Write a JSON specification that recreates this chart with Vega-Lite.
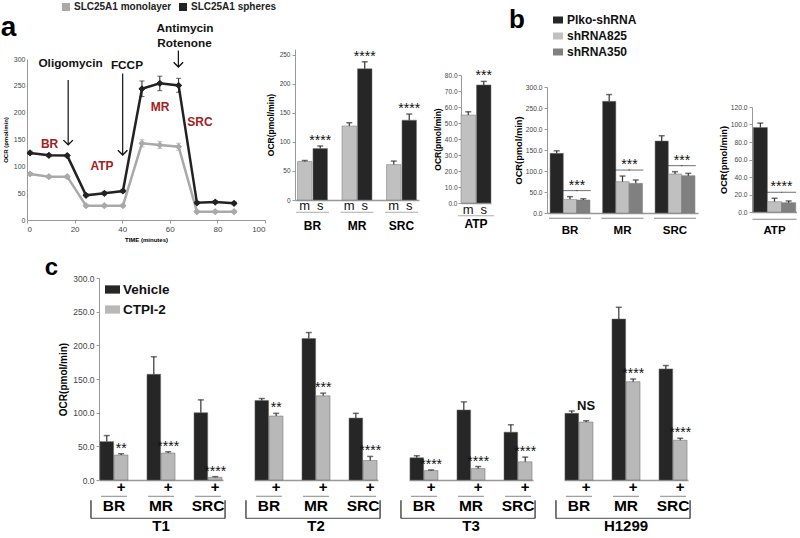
{
"$schema":"https://vega.github.io/schema/vega-lite/v6.json",
"padding":{"left":0,"top":0,"right":0,"bottom":0},
"config":{
 "font":"Liberation Sans",
 "view":{"stroke":null},
 "axis":{"grid":false,"labelOverlap":false,"labelColor":"#444","domainColor":"#999","tickColor":"#999","titleColor":"#000","labelFont":"Liberation Sans","titleFont":"Liberation Sans"},
 "legend":{"labelFont":"Liberation Sans","padding":0},
 "title":{"font":"Liberation Sans","color":"#000"},
 "text":{"font":"Liberation Sans"}
},
"datasets":{
 "aline":[
  {"series":"SLC25A1 monolayer","time":1.3,"value":85.7,"lo":83,"hi":88.5},
  {"series":"SLC25A1 monolayer","time":9.2,"value":80.7,"lo":78,"hi":83.5},
  {"series":"SLC25A1 monolayer","time":16.9,"value":80.7,"lo":78,"hi":83.5},
  {"series":"SLC25A1 monolayer","time":24.8,"value":26.7,"lo":24.5,"hi":29},
  {"series":"SLC25A1 monolayer","time":32.5,"value":26.7,"lo":24.5,"hi":29},
  {"series":"SLC25A1 monolayer","time":40.3,"value":26.7,"lo":24.5,"hi":29},
  {"series":"SLC25A1 monolayer","time":48.3,"value":142.8,"lo":136,"hi":149.5},
  {"series":"SLC25A1 monolayer","time":55.8,"value":139.7,"lo":133,"hi":146.5},
  {"series":"SLC25A1 monolayer","time":63.7,"value":136.5,"lo":130,"hi":143},
  {"series":"SLC25A1 monolayer","time":71.4,"value":15.5,"lo":13.5,"hi":17.5},
  {"series":"SLC25A1 monolayer","time":79.1,"value":15.5,"lo":13.5,"hi":17.5},
  {"series":"SLC25A1 monolayer","time":87,"value":15.5,"lo":13.5,"hi":17.5},
  {"series":"SLC25A1 spheres","time":1.3,"value":125,"lo":122,"hi":128},
  {"series":"SLC25A1 spheres","time":9.2,"value":120.5,"lo":118,"hi":123},
  {"series":"SLC25A1 spheres","time":16.9,"value":120,"lo":117.5,"hi":122.5},
  {"series":"SLC25A1 spheres","time":24.8,"value":46,"lo":43.5,"hi":48.5},
  {"series":"SLC25A1 spheres","time":32.5,"value":49.7,"lo":47,"hi":52.5},
  {"series":"SLC25A1 spheres","time":40.3,"value":54,"lo":51,"hi":57},
  {"series":"SLC25A1 spheres","time":48.3,"value":244.5,"lo":230,"hi":259},
  {"series":"SLC25A1 spheres","time":55.8,"value":254.6,"lo":241,"hi":268},
  {"series":"SLC25A1 spheres","time":63.7,"value":250.8,"lo":238,"hi":264},
  {"series":"SLC25A1 spheres","time":71.4,"value":32,"lo":29.5,"hi":34.5},
  {"series":"SLC25A1 spheres","time":79.1,"value":33.5,"lo":31,"hi":36},
  {"series":"SLC25A1 spheres","time":87,"value":31,"lo":28.5,"hi":33.5}
 ],
 "anno":[
  {"label":"Oligomycin","time":18.3,"value":293,"kind":"drug"},
  {"label":"FCCP","time":42,"value":288,"kind":"drug"},
  {"label":"Antimycin","time":66.4,"value":357,"kind":"drug"},
  {"label":"Rotenone","time":66.2,"value":330,"kind":"drug"},
  {"label":"BR","time":9.5,"value":141,"kind":"phase"},
  {"label":"ATP","time":31.5,"value":101,"kind":"phase"},
  {"label":"MR","time":55.9,"value":211,"kind":"phase"},
  {"label":"SRC","time":72.7,"value":183,"kind":"phase"}
 ],
 "arrows":[
  {"time":17.3,"top":261,"tip":140},
  {"time":40.2,"top":273,"tip":121},
  {"time":63.6,"top":316,"tip":285}
 ],
 "abar":[
  {"group":"BR","t":"m","value":66.5,"upper":68,"sig":""},
  {"group":"BR","t":"s","value":88.5,"upper":93,"sig":"****"},
  {"group":"MR","t":"m","value":127.5,"upper":133,"sig":""},
  {"group":"MR","t":"s","value":226,"upper":238,"sig":"****"},
  {"group":"SRC","t":"m","value":61,"upper":67,"sig":""},
  {"group":"SRC","t":"s","value":137.5,"upper":148,"sig":"****"}
 ],
 "aatp":[
  {"group":"ATP","t":"m","value":55,"upper":57,"sig":""},
  {"group":"ATP","t":"s","value":73.8,"upper":76,"sig":"***"}
 ],
 "bbar":[
  {"group":"BR","tr":"Plko-shRNA","value":142,"upper":148,"sig":""},
  {"group":"BR","tr":"shRNA825","value":32.5,"upper":39,"sig":"***"},
  {"group":"BR","tr":"shRNA350","value":31,"upper":34,"sig":""},
  {"group":"MR","tr":"Plko-shRNA","value":266,"upper":282,"sig":""},
  {"group":"MR","tr":"shRNA825","value":74.6,"upper":88,"sig":"***"},
  {"group":"MR","tr":"shRNA350","value":70.6,"upper":78.6,"sig":""},
  {"group":"SRC","tr":"Plko-shRNA","value":171.4,"upper":184,"sig":""},
  {"group":"SRC","tr":"shRNA825","value":92.9,"upper":98.4,"sig":"***"},
  {"group":"SRC","tr":"shRNA350","value":88.9,"upper":94.4,"sig":""}
 ],
 "batp":[
  {"group":"ATP","tr":"Plko-shRNA","value":96.6,"upper":101.6,"sig":""},
  {"group":"ATP","tr":"shRNA825","value":11.8,"upper":15.7,"sig":"****"},
  {"group":"ATP","tr":"shRNA350","value":10.7,"upper":12.6,"sig":""}
 ],
 "cdata":[
  {"cell":"T1","metric":"BR","treatment":"Vehicle","value":57,"upper":66,"sig":""},
  {"cell":"T1","metric":"BR","treatment":"CTPI-2","value":37,"upper":39,"sig":"**"},
  {"cell":"T1","metric":"MR","treatment":"Vehicle","value":157,"upper":183,"sig":""},
  {"cell":"T1","metric":"MR","treatment":"CTPI-2","value":40,"upper":42,"sig":"****"},
  {"cell":"T1","metric":"SRC","treatment":"Vehicle","value":100,"upper":119,"sig":""},
  {"cell":"T1","metric":"SRC","treatment":"CTPI-2","value":4,"upper":5,"sig":"****"},
  {"cell":"T2","metric":"BR","treatment":"Vehicle","value":118,"upper":121,"sig":""},
  {"cell":"T2","metric":"BR","treatment":"CTPI-2","value":95,"upper":99,"sig":"**"},
  {"cell":"T2","metric":"MR","treatment":"Vehicle","value":210,"upper":219,"sig":""},
  {"cell":"T2","metric":"MR","treatment":"CTPI-2","value":125,"upper":129,"sig":"***"},
  {"cell":"T2","metric":"SRC","treatment":"Vehicle","value":92,"upper":99,"sig":""},
  {"cell":"T2","metric":"SRC","treatment":"CTPI-2","value":29,"upper":35,"sig":"****"},
  {"cell":"T3","metric":"BR","treatment":"Vehicle","value":33,"upper":36,"sig":""},
  {"cell":"T3","metric":"BR","treatment":"CTPI-2","value":14,"upper":15,"sig":"****"},
  {"cell":"T3","metric":"MR","treatment":"Vehicle","value":104,"upper":116,"sig":""},
  {"cell":"T3","metric":"MR","treatment":"CTPI-2","value":17,"upper":20,"sig":"****"},
  {"cell":"T3","metric":"SRC","treatment":"Vehicle","value":71,"upper":82,"sig":""},
  {"cell":"T3","metric":"SRC","treatment":"CTPI-2","value":27,"upper":34,"sig":"****"},
  {"cell":"H1299","metric":"BR","treatment":"Vehicle","value":99,"upper":102.5,"sig":""},
  {"cell":"H1299","metric":"BR","treatment":"CTPI-2","value":86,"upper":88,"sig":"NS"},
  {"cell":"H1299","metric":"MR","treatment":"Vehicle","value":239,"upper":256.5,"sig":""},
  {"cell":"H1299","metric":"MR","treatment":"CTPI-2","value":146,"upper":150,"sig":"****"},
  {"cell":"H1299","metric":"SRC","treatment":"Vehicle","value":165,"upper":170,"sig":""},
  {"cell":"H1299","metric":"SRC","treatment":"CTPI-2","value":59,"upper":62,"sig":"****"}
 ]
},
"resolve":{"scale":{"color":"independent","x":"independent","y":"independent","xOffset":"independent"},"legend":{"color":"independent"}},
"spacing":14,
"vconcat":[
 {"resolve":{"scale":{"color":"independent","x":"independent","y":"independent","xOffset":"independent"},"legend":{"color":"independent"}},
  "spacing":14,
  "hconcat":[
   {"resolve":{"scale":{"color":"independent","x":"independent","y":"independent","xOffset":"independent"},"legend":{"color":"independent"}},
    "spacing":-11,
    "hconcat":[
     {"vconcat":[
       {"width":1,"height":59,"data":{"values":[{}]},"mark":{"type":"text","text":" "},"encoding":{}},
       {"width":238,"height":161,
        "layer":[
         {"data":{"name":"aline"},"mark":{"type":"point","shape":"diamond","filled":true,"size":45,"opacity":1},
          "encoding":{
           "x":{"field":"time","type":"quantitative","scale":{"domain":[0,100]},"axis":{"values":[0,20,40,60,80,100],"tickCount":20,"title":"TIME (minutes)","titleFontSize":6,"titleFontWeight":"bold","labelFontSize":8,"tickSize":3,"labelPadding":2,"titlePadding":3,"labelOverlap":false}},
           "y":{"field":"value","type":"quantitative","scale":{"domain":[0,300]},"axis":{"values":[0,50,100,150,200,250,300],"tickCount":20,"title":"OCR (pmol/min)","titleFontSize":6,"titleFontWeight":"bold","labelFontSize":7,"tickSize":0,"labelPadding":2,"titlePadding":5,"labelOverlap":false}},
           "color":{"field":"series","type":"nominal","scale":{"domain":["SLC25A1 monolayer","SLC25A1 spheres"],"range":["#a9a9a9","#222222"]},
            "legend":{"orient":"none","legendX":34,"legendY":2,"direction":"horizontal","title":null,"symbolType":"square","symbolSize":64,"symbolStrokeWidth":0,"labelFontSize":10,"labelFontWeight":"bold","labelColor":"#222","columnPadding":6,"labelOffset":3}}
          }},
         {"data":{"name":"aline"},"mark":{"type":"line","strokeWidth":2.5},
          "encoding":{"x":{"field":"time","type":"quantitative"},"y":{"field":"value","type":"quantitative"},"color":{"field":"series","type":"nominal"}}},
         {"data":{"name":"aline"},"mark":{"type":"rule","strokeWidth":1},
          "encoding":{"x":{"field":"time","type":"quantitative"},"y":{"field":"lo","type":"quantitative"},"y2":{"field":"hi"},"color":{"field":"series","type":"nominal"}}},
         {"data":{"name":"aline"},"transform":[{"fold":["lo","hi"],"as":["k","cap"]}],"mark":{"type":"tick","orient":"horizontal","size":5,"thickness":1},
          "encoding":{"x":{"field":"time","type":"quantitative"},"y":{"field":"cap","type":"quantitative"},"color":{"field":"series","type":"nominal"}}},
         {"data":{"name":"aline"},"mark":{"type":"point","shape":"diamond","filled":true,"size":45,"opacity":1},
          "encoding":{"x":{"field":"time","type":"quantitative"},"y":{"field":"value","type":"quantitative"},"color":{"field":"series","type":"nominal"}}},
         {"data":{"values":[{}]},"mark":{"type":"text","text":"a","fontSize":28,"fontWeight":"bold","align":"left","baseline":"alphabetic","color":"#000"},
          "encoding":{"x":{"datum":-11,"type":"quantitative"},"y":{"datum":343,"type":"quantitative"}}},
         {"data":{"name":"anno"},"transform":[{"filter":"datum.kind == 'drug'"}],"mark":{"type":"text","fontSize":11.8,"fontWeight":"bold","color":"#111","baseline":"middle"},
          "encoding":{"x":{"field":"time","type":"quantitative"},"y":{"field":"value","type":"quantitative"},"text":{"field":"label"}}},
         {"data":{"name":"anno"},"transform":[{"filter":"datum.kind == 'phase'"}],"mark":{"type":"text","fontSize":12,"fontWeight":"bold","color":"#a3201e","baseline":"middle"},
          "encoding":{"x":{"field":"time","type":"quantitative"},"y":{"field":"value","type":"quantitative"},"text":{"field":"label"}}},
         {"data":{"name":"arrows"},"mark":{"type":"rule","strokeWidth":1.2,"color":"#111"},
          "encoding":{"x":{"field":"time","type":"quantitative"},"y":{"field":"top","type":"quantitative"},"y2":{"field":"tip"}}},
         {"data":{"name":"arrows"},"mark":{"type":"point","shape":"M-1,-1L0,0L1,-1","filled":false,"size":90,"strokeWidth":1.4,"color":"#111","opacity":1},
          "encoding":{"x":{"field":"time","type":"quantitative"},"y":{"field":"tip","type":"quantitative"}}}
        ]}
      ],"spacing":0,"bounds":"flush"},
     {"resolve":{"scale":{"color":"independent","x":"independent","y":"independent","xOffset":"independent"},"legend":{"color":"independent"}},
      "spacing":12,
      "hconcat":[
       {"vconcat":[
         {"width":1,"height":49,"data":{"values":[{}]},"mark":{"type":"text","text":" "},"encoding":{}},
         {"width":124,"height":151,
          "data":{"name":"abar"},
          "layer":[
           {"mark":{"type":"bar","stroke":"#777","strokeWidth":0.5},
            "encoding":{
             "x":{"field":"group","type":"nominal","sort":["BR","MR","SRC"],"scale":{"paddingInner":0.326,"paddingOuter":0.056},"axis":{"title":null,"labelAngle":0,"labelFontSize":12,"labelFontWeight":"bold","labelColor":"#000","ticks":false,"labelPadding":20,"domainColor":"#999","domainWidth":1.5}},
             "xOffset":{"field":"t","type":"nominal","sort":["m","s"],"scale":{"paddingInner":0.06}},
             "y":{"field":"value","type":"quantitative","scale":{"domain":[0,250]},"axis":{"values":[0,50,100,150,200,250],"tickCount":20,"title":"OCR(pmol/min)","titleFontSize":8.5,"titleFontWeight":"bold","labelFontSize":6.5,"tickSize":3,"labelPadding":2,"titlePadding":4,"labelOverlap":false}},
             "color":{"field":"t","type":"nominal","scale":{"domain":["m","s"],"range":["#c0c0c0","#262626"]},"legend":null}
            }},
           {"mark":{"type":"rule","color":"#333","strokeWidth":1.2},
            "encoding":{"x":{"field":"group","type":"nominal","sort":["BR","MR","SRC"]},"xOffset":{"field":"t","type":"nominal","sort":["m","s"]},"y":{"field":"value","type":"quantitative"},"y2":{"field":"upper"}}},
           {"mark":{"type":"tick","orient":"horizontal","size":6,"thickness":1.5,"color":"#333"},
            "encoding":{"x":{"field":"group","type":"nominal","sort":["BR","MR","SRC"]},"xOffset":{"field":"t","type":"nominal","sort":["m","s"]},"y":{"field":"upper","type":"quantitative"}}},
           {"mark":{"type":"text","fontSize":13,"baseline":"top","color":"#111","fill":"#111"},
            "encoding":{"x":{"field":"group","type":"nominal","sort":["BR","MR","SRC"]},"xOffset":{"field":"t","type":"nominal","sort":["m","s"]},"y":{"datum":0,"type":"quantitative"},"text":{"field":"t"}}},
           {"transform":[{"filter":"datum.t == 's'"}],"mark":{"type":"tick","orient":"horizontal","size":33,"thickness":1,"color":"#888"},
            "encoding":{"x":{"field":"group","type":"nominal","sort":["BR","MR","SRC"]},"y":{"datum":-21,"type":"quantitative"}}},
           {"transform":[{"filter":"datum.sig != ''"}],"mark":{"type":"text","fontSize":14,"baseline":"alphabetic","dy":-1,"color":"#111"},
            "encoding":{"x":{"field":"group","type":"nominal","sort":["BR","MR","SRC"]},"xOffset":{"field":"t","type":"nominal","sort":["m","s"]},"y":{"field":"upper","type":"quantitative"},"text":{"field":"sig"}}}
          ]}
        ],"spacing":0,"bounds":"flush"},
       {"vconcat":[
         {"width":1,"height":75,"data":{"values":[{}]},"mark":{"type":"text","text":" "},"encoding":{}},
         {"width":30,"height":128,
          "data":{"name":"aatp"},
          "layer":[
           {"mark":{"type":"bar","stroke":"#777","strokeWidth":0.5},
            "encoding":{
             "x":{"field":"group","type":"nominal","scale":{"paddingInner":0,"paddingOuter":0},"axis":{"title":null,"labelAngle":0,"labelFontSize":12,"labelFontWeight":"bold","labelColor":"#000","ticks":false,"labelPadding":15,"domainColor":"#999","domainWidth":1.5}},
             "xOffset":{"field":"t","type":"nominal","sort":["m","s"],"scale":{"paddingInner":0.06}},
             "y":{"field":"value","type":"quantitative","scale":{"domain":[0,80]},"axis":{"values":[0,10,20,30,40,50,60,70,80],"tickCount":20,"format":".1f","title":"OCR(pmol/min)","titleFontSize":8.5,"titleFontWeight":"bold","labelFontSize":6.5,"tickSize":3,"labelPadding":1,"titlePadding":2,"labelOverlap":false}},
             "color":{"field":"t","type":"nominal","scale":{"domain":["m","s"],"range":["#c0c0c0","#262626"]},"legend":null}
            }},
           {"mark":{"type":"rule","color":"#333","strokeWidth":1.2},
            "encoding":{"x":{"field":"group","type":"nominal"},"xOffset":{"field":"t","type":"nominal","sort":["m","s"]},"y":{"field":"value","type":"quantitative"},"y2":{"field":"upper"}}},
           {"mark":{"type":"tick","orient":"horizontal","size":6,"thickness":1.5,"color":"#333"},
            "encoding":{"x":{"field":"group","type":"nominal"},"xOffset":{"field":"t","type":"nominal","sort":["m","s"]},"y":{"field":"upper","type":"quantitative"}}},
           {"mark":{"type":"text","fontSize":13,"baseline":"top","dy":1,"color":"#111","fill":"#111"},
            "encoding":{"x":{"field":"group","type":"nominal"},"xOffset":{"field":"t","type":"nominal","sort":["m","s"]},"y":{"datum":0,"type":"quantitative"},"text":{"field":"t"}}},
           {"transform":[{"filter":"datum.t == 's'"}],"mark":{"type":"tick","orient":"horizontal","size":36,"thickness":1,"color":"#888"},
            "encoding":{"x":{"field":"group","type":"nominal"},"y":{"datum":-8,"type":"quantitative"}}},
           {"transform":[{"filter":"datum.sig != ''"}],"mark":{"type":"text","fontSize":14,"baseline":"alphabetic","dy":-1,"color":"#111"},
            "encoding":{"x":{"field":"group","type":"nominal"},"xOffset":{"field":"t","type":"nominal","sort":["m","s"]},"y":{"field":"upper","type":"quantitative"},"text":{"field":"sig"}}}
          ]}
        ],"spacing":0,"bounds":"flush"}
      ]}
    ]},
   {"resolve":{"scale":{"color":"independent","x":"independent","y":"independent","xOffset":"independent"},"legend":{"color":"independent"}},
    "spacing":21,
    "hconcat":[
     {"vconcat":[
       {"width":1,"height":87,"data":{"values":[{}]},"mark":{"type":"text","text":" "},"encoding":{}},
       {"width":151,"height":126,
        "data":{"name":"bbar"},
        "layer":[
         {"mark":{"type":"bar","stroke":"#777","strokeWidth":0.5},
          "encoding":{
           "x":{"field":"group","type":"nominal","sort":["BR","MR","SRC"],"scale":{"paddingInner":0.24,"paddingOuter":0.058},"axis":{"title":null,"labelAngle":0,"labelFontSize":11.5,"labelFontWeight":"bold","labelColor":"#000","ticks":false,"labelPadding":11,"domainColor":"#999","domainWidth":1.5}},
           "xOffset":{"field":"tr","type":"nominal","sort":["Plko-shRNA","shRNA825","shRNA350"],"scale":{"paddingInner":0}},
           "y":{"field":"value","type":"quantitative","scale":{"domain":[0,300]},"axis":{"values":[0,50,100,150,200,250,300],"tickCount":20,"format":".1f","title":"OCR(pmol/min)","titleFontSize":9.3,"titleFontWeight":"bold","labelFontSize":6.7,"tickSize":3,"labelPadding":2,"titlePadding":2,"labelOverlap":false}},
           "color":{"field":"tr","type":"nominal","scale":{"domain":["Plko-shRNA","shRNA825","shRNA350"],"range":["#262626","#c0c0c0","#808080"]},
            "legend":{"orient":"none","legendX":5,"legendY":14,"title":null,"symbolType":"M-1,-0.7H1V0.7H-1Z","symbolSize":100,"symbolStrokeWidth":0,"labelFontSize":12,"labelFontWeight":"bold","labelColor":"#111","rowPadding":4,"labelOffset":3}}
          }},
         {"mark":{"type":"rule","color":"#333","strokeWidth":1.2},
          "encoding":{"x":{"field":"group","type":"nominal","sort":["BR","MR","SRC"]},"xOffset":{"field":"tr","type":"nominal","sort":["Plko-shRNA","shRNA825","shRNA350"]},"y":{"field":"value","type":"quantitative"},"y2":{"field":"upper"}}},
         {"mark":{"type":"tick","orient":"horizontal","size":6,"thickness":1.5,"color":"#333"},
          "encoding":{"x":{"field":"group","type":"nominal","sort":["BR","MR","SRC"]},"xOffset":{"field":"tr","type":"nominal","sort":["Plko-shRNA","shRNA825","shRNA350"]},"y":{"field":"upper","type":"quantitative"}}},
         {"transform":[{"filter":"datum.tr == 'Plko-shRNA'"}],"mark":{"type":"tick","orient":"horizontal","size":42,"thickness":1,"color":"#555"},
          "encoding":{"x":{"field":"group","type":"nominal","sort":["BR","MR","SRC"]},"y":{"datum":-12.6,"type":"quantitative"}}},
         {"transform":[{"filter":"datum.tr != 'Plko-shRNA'"},{"joinaggregate":[{"op":"max","field":"upper","as":"top"}],"groupby":["group"]}],
          "mark":{"type":"tick","orient":"horizontal","size":15,"thickness":1,"color":"#333","yOffset":-6},
          "encoding":{"x":{"field":"group","type":"nominal","sort":["BR","MR","SRC"]},"xOffset":{"field":"tr","type":"nominal","sort":["Plko-shRNA","shRNA825","shRNA350"]},"y":{"field":"top","type":"quantitative"}}},
         {"transform":[{"filter":"datum.tr != 'Plko-shRNA'"},{"joinaggregate":[{"op":"max","field":"upper","as":"top"}],"groupby":["group"]},{"filter":"datum.sig != ''"}],
          "mark":{"type":"text","fontSize":14,"baseline":"alphabetic","dx":7,"dy":-7,"color":"#111"},
          "encoding":{"x":{"field":"group","type":"nominal","sort":["BR","MR","SRC"]},"xOffset":{"field":"tr","type":"nominal","sort":["Plko-shRNA","shRNA825","shRNA350"]},"y":{"field":"top","type":"quantitative"},"text":{"field":"sig"}}},
         {"data":{"values":[{}]},"mark":{"type":"text","text":"b","fontSize":26,"fontWeight":"bold","align":"left","baseline":"alphabetic","dx":-61,"color":"#000"},
          "encoding":{"x":{"datum":"BR","type":"nominal"},"y":{"datum":440,"type":"quantitative"}}}
        ]}
      ],"spacing":0,"bounds":"flush"},
     {"vconcat":[
       {"width":1,"height":107,"data":{"values":[{}]},"mark":{"type":"text","text":" "},"encoding":{}},
       {"width":45,"height":105,
        "data":{"name":"batp"},
        "layer":[
         {"mark":{"type":"bar","stroke":"#777","strokeWidth":0.5},
          "encoding":{
           "x":{"field":"group","type":"nominal","scale":{"paddingInner":0,"paddingOuter":0.03},"axis":{"title":null,"labelAngle":0,"labelFontSize":11.5,"labelFontWeight":"bold","labelColor":"#000","ticks":false,"labelPadding":12,"domainColor":"#999","domainWidth":1.5}},
           "xOffset":{"field":"tr","type":"nominal","sort":["Plko-shRNA","shRNA825","shRNA350"],"scale":{"paddingInner":0}},
           "y":{"field":"value","type":"quantitative","scale":{"domain":[0,120]},"axis":{"values":[0,20,40,60,80,100,120],"tickCount":20,"format":".1f","title":"OCR(pmol/min)","titleFontSize":9.3,"titleFontWeight":"bold","labelFontSize":6.7,"tickSize":3,"labelPadding":2,"titlePadding":2,"labelOverlap":false}},
           "color":{"field":"tr","type":"nominal","scale":{"domain":["Plko-shRNA","shRNA825","shRNA350"],"range":["#262626","#c0c0c0","#808080"]},"legend":null}
          }},
         {"mark":{"type":"rule","color":"#333","strokeWidth":1.2},
          "encoding":{"x":{"field":"group","type":"nominal"},"xOffset":{"field":"tr","type":"nominal","sort":["Plko-shRNA","shRNA825","shRNA350"]},"y":{"field":"value","type":"quantitative"},"y2":{"field":"upper"}}},
         {"mark":{"type":"tick","orient":"horizontal","size":6,"thickness":1.5,"color":"#333"},
          "encoding":{"x":{"field":"group","type":"nominal"},"xOffset":{"field":"tr","type":"nominal","sort":["Plko-shRNA","shRNA825","shRNA350"]},"y":{"field":"upper","type":"quantitative"}}},
         {"transform":[{"filter":"datum.tr == 'Plko-shRNA'"}],"mark":{"type":"tick","orient":"horizontal","size":44,"thickness":1,"color":"#555"},
          "encoding":{"x":{"field":"group","type":"nominal"},"y":{"datum":-8.4,"type":"quantitative"}}},
         {"transform":[{"filter":"datum.tr != 'Plko-shRNA'"},{"joinaggregate":[{"op":"max","field":"upper","as":"top"}],"groupby":["group"]}],
          "mark":{"type":"tick","orient":"horizontal","size":15,"thickness":1,"color":"#333","yOffset":-6},
          "encoding":{"x":{"field":"group","type":"nominal"},"xOffset":{"field":"tr","type":"nominal","sort":["Plko-shRNA","shRNA825","shRNA350"]},"y":{"field":"top","type":"quantitative"}}},
         {"transform":[{"filter":"datum.tr != 'Plko-shRNA'"},{"joinaggregate":[{"op":"max","field":"upper","as":"top"}],"groupby":["group"]},{"filter":"datum.sig != ''"}],
          "mark":{"type":"text","fontSize":14,"baseline":"alphabetic","dx":7,"dy":-7,"color":"#111"},
          "encoding":{"x":{"field":"group","type":"nominal"},"xOffset":{"field":"tr","type":"nominal","sort":["Plko-shRNA","shRNA825","shRNA350"]},"y":{"field":"top","type":"quantitative"},"text":{"field":"sig"}}}
        ]}
      ],"spacing":0,"bounds":"flush"}
    ]}
  ]},
 {"resolve":{"scale":{"color":"independent","x":"independent","y":"independent","xOffset":"independent"},"legend":{"color":"independent"}},
  "spacing":0,
  "hconcat":[
   {"width":17,"height":1,"data":{"values":[{}]},"mark":{"type":"text","text":" "},"encoding":{}},
   {"data":{"name":"cdata"},
    "title":{"text":"c","fontSize":24,"fontWeight":"bold","anchor":"start","frame":"bounds","dx":-14,"offset":-6},
    "facet":{"column":{"field":"cell","type":"nominal","sort":["T1","T2","T3","H1299"],"header":{"title":null,"labelOrient":"bottom","titleOrient":"bottom","labelFontSize":15,"labelFontWeight":"bold","labelColor":"#000","labelPadding":5}}},
    "spacing":31,
    "bounds":"flush",
    "spec":{"width":124,"height":202,
     "layer":[
      {"mark":{"type":"bar","stroke":"#666","strokeWidth":0.5},
       "encoding":{
        "x":{"field":"metric","type":"nominal","sort":["BR","MR","SRC"],"scale":{"paddingInner":0.404,"paddingOuter":0.02},"axis":{"title":null,"labelAngle":0,"labelFontSize":15.5,"labelFontWeight":"bold","labelColor":"#000","ticks":false,"labelPadding":18,"domainColor":"#999","domainWidth":1.5}},
        "xOffset":{"field":"treatment","type":"nominal","sort":["Vehicle","CTPI-2"],"scale":{"paddingInner":0.05}},
        "y":{"field":"value","type":"quantitative","scale":{"domain":[0,300]},"axis":{"values":[0,50,100,150,200,250,300],"tickCount":20,"format":".1f","title":"OCR(pmol/min)","titleFontSize":10,"titleFontWeight":"bold","labelFontSize":8.5,"tickSize":3,"labelPadding":2,"titlePadding":4,"labelOverlap":false}},
        "color":{"field":"treatment","type":"nominal","sort":["Vehicle","CTPI-2"],"scale":{"domain":["Vehicle","CTPI-2"],"range":["#262626","#b8b8b8"]},
         "legend":{"orient":"none","legendX":6,"legendY":4,"title":null,"symbolType":"M-1,-0.55H1V0.55H-1Z","symbolSize":225,"symbolStrokeWidth":0,"labelFontSize":13.5,"labelFontWeight":"bold","labelColor":"#111","rowPadding":6,"labelOffset":3}}
       }},
      {"mark":{"type":"rule","color":"#333","strokeWidth":1.2},
       "encoding":{"x":{"field":"metric","type":"nominal","sort":["BR","MR","SRC"]},"xOffset":{"field":"treatment","type":"nominal","sort":["Vehicle","CTPI-2"]},"y":{"field":"value","type":"quantitative"},"y2":{"field":"upper"}}},
      {"mark":{"type":"tick","orient":"horizontal","size":6,"thickness":1.5,"color":"#333"},
       "encoding":{"x":{"field":"metric","type":"nominal","sort":["BR","MR","SRC"]},"xOffset":{"field":"treatment","type":"nominal","sort":["Vehicle","CTPI-2"]},"y":{"field":"upper","type":"quantitative"}}},
      {"transform":[{"filter":"datum.treatment == 'CTPI-2'"}],"mark":{"type":"text","text":"+","fontSize":15,"fontWeight":"bold","baseline":"middle","dy":6.5,"color":"#000"},
       "encoding":{"x":{"field":"metric","type":"nominal","sort":["BR","MR","SRC"]},"xOffset":{"field":"treatment","type":"nominal","sort":["Vehicle","CTPI-2"]},"y":{"datum":0,"type":"quantitative"}}},
      {"transform":[{"filter":"datum.treatment == 'Vehicle'"}],"mark":{"type":"tick","orient":"horizontal","size":26,"thickness":1,"color":"#555"},
       "encoding":{"x":{"field":"metric","type":"nominal","sort":["BR","MR","SRC"]},"y":{"datum":-24.2,"type":"quantitative"}}},
      {"transform":[{"filter":"datum.treatment == 'Vehicle' && datum.metric == 'MR'"}],"mark":{"type":"tick","orient":"horizontal","size":134,"thickness":1.3,"color":"#333","xOffset":-3},
       "encoding":{"x":{"field":"metric","type":"nominal","sort":["BR","MR","SRC"]},"y":{"datum":-57,"type":"quantitative"}}},
      {"transform":[{"filter":"datum.treatment == 'Vehicle' && datum.metric == 'BR'"}],"mark":{"type":"rule","strokeWidth":1.3,"color":"#333"},
       "encoding":{"x":{"field":"metric","type":"nominal","sort":["BR","MR","SRC"],"bandPosition":-0.32},"y":{"datum":-30,"type":"quantitative"},"y2":{"datum":-57}}},
      {"transform":[{"filter":"datum.treatment == 'Vehicle' && datum.metric == 'SRC'"}],"mark":{"type":"rule","strokeWidth":1.3,"color":"#333"},
       "encoding":{"x":{"field":"metric","type":"nominal","sort":["BR","MR","SRC"],"bandPosition":1.107},"y":{"datum":-30,"type":"quantitative"},"y2":{"datum":-57}}},
      {"transform":[{"filter":"datum.sig != '' && datum.sig != 'NS'"}],"mark":{"type":"text","fontSize":14,"baseline":"alphabetic","dy":-1,"color":"#111"},
       "encoding":{"x":{"field":"metric","type":"nominal","sort":["BR","MR","SRC"]},"xOffset":{"field":"treatment","type":"nominal","sort":["Vehicle","CTPI-2"]},"y":{"field":"upper","type":"quantitative"},"text":{"field":"sig"}}},
      {"transform":[{"filter":"datum.sig == 'NS'"}],"mark":{"type":"text","fontSize":13,"fontWeight":"bold","baseline":"alphabetic","dy":-11,"color":"#111"},
       "encoding":{"x":{"field":"metric","type":"nominal","sort":["BR","MR","SRC"]},"xOffset":{"field":"treatment","type":"nominal","sort":["Vehicle","CTPI-2"]},"y":{"field":"upper","type":"quantitative"},"text":{"field":"sig"}}}
     ]}
   }
  ]}
]
}
